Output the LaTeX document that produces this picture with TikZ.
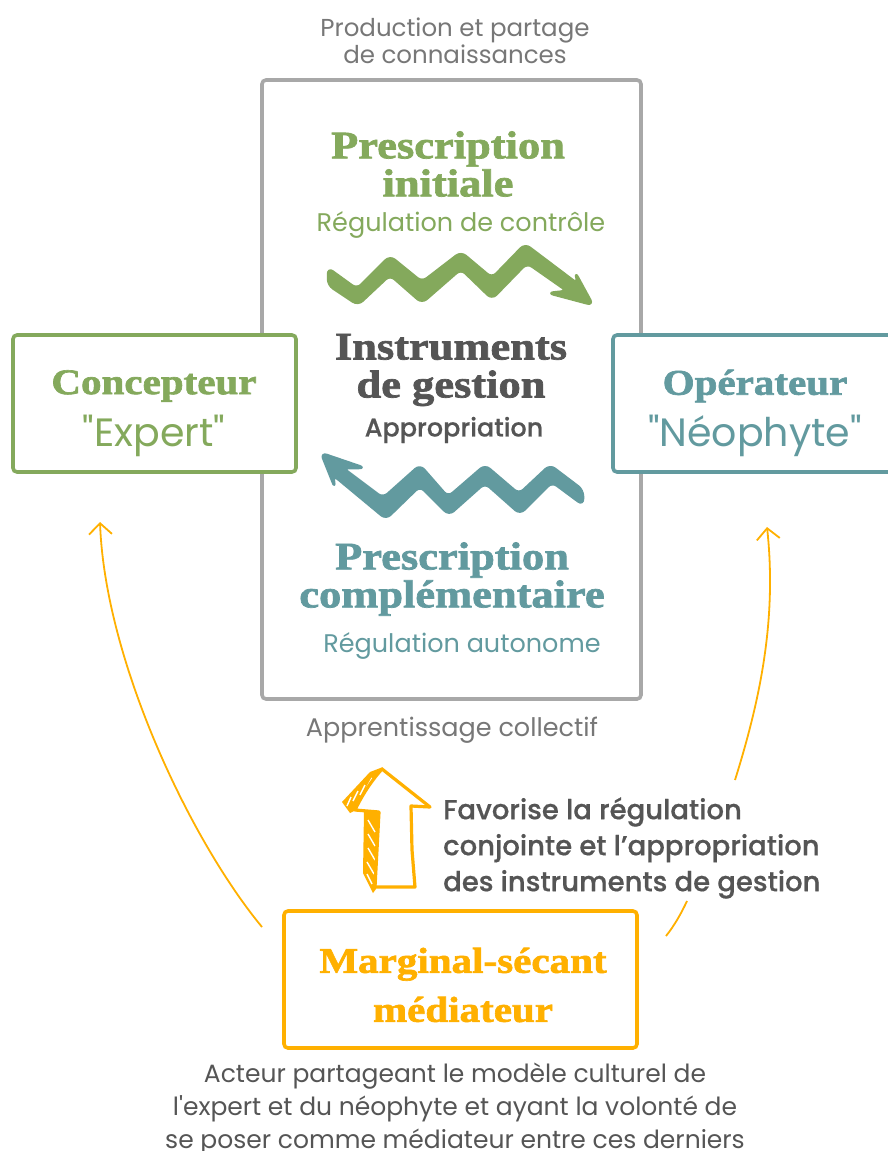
\documentclass[tikz,border=0pt]{standalone}
\usepackage{fontspec}
\setmainfont{Poppins}
\newfontfamily\headfont[BoldFont={Liberation Serif Bold},FakeBold=1.8,FakeStretch=1.14]{Liberation Serif Bold}
\newfontfamily\bodyfont[BoldFont={Poppins Medium},BoldFeatures={FakeBold=0.5}]{Poppins}
\usetikzlibrary{arrows.meta,calc}
\definecolor{cgreen}{HTML}{84A95C}
\definecolor{cteal}{HTML}{629A9F}
\definecolor{cyel}{HTML}{FFB000}
\definecolor{cgrey}{HTML}{A8A8A8}
\definecolor{cdark}{HTML}{555555}
\definecolor{clight}{HTML}{777777}
\tikzset{
 box/.style={draw=#1,line width=3.6pt,rounded corners=4pt,fill=white,outer sep=0pt,inner sep=0pt,anchor=north west},
 head/.style={font=\headfont\fontsize{36}{38}\selectfont,align=center,text=#1,inner sep=0pt},
 headb/.style={font=\headfont\fontsize{39}{38}\selectfont,align=center,text=#1,inner sep=0pt},
 sub/.style={font=\bodyfont\fontsize{25.5}{29}\selectfont,align=center,text=#1,inner sep=0pt},
 big/.style={font=\bodyfont\fontsize{39.5}{44}\selectfont,align=center,text=#1,inner sep=0pt},
 link/.style={draw=cyel,line width=1.8pt},
 linkhead/.style={link,-{Straight Barb[length=11pt,width=23pt,line width=1.8pt]}},
 squig/.style={fill=#1,draw=#1,line width=2.5pt,line join=round,rounded corners=6pt},
 hatch/.style={white,line width=1.4pt}
}
\begin{document}
\begin{tikzpicture}[x=1pt,y=-1pt]
\useasboundingbox (0,0) rectangle (887,1151);
\fill[white] (0,0) rectangle (887,1151);
% main panel
\node[box=cgrey,minimum width=379pt,minimum height=619pt] (panel) at (262,80) {};
\node[box=cgreen,minimum width=283pt,minimum height=137pt] (concepteur) at (13,335) {};
\node[box=cteal,minimum width=290pt,minimum height=137pt] (operateur) at (613,335) {};
\node[box=cyel,minimum width=353pt,minimum height=137pt] (marginal) at (284,911) {};
% texts
\node[sub=clight,font=\bodyfont\fontsize{24.5}{27}\selectfont] (prod) at (455,41) {Production et partage\\ de connaissances};
\node[headb=cgreen] (presc) at (448,164) {Prescription\\initiale};
\node[sub=cgreen] (regc) at (461,225) {Régulation de contrôle};
\node[headb=cdark] (instr) at (451,370) {Instruments\\de gestion};
\node[sub=cdark] (appr) at (454,430) {\bfseries Appropriation};
\node[headb=cteal] (prescb) at (452,579) {Prescription\\complémentaire};
\node[sub=cteal] (rega) at (462,646) {Régulation autonome};
\node[sub=clight] (appc) at (452,730) {Apprentissage collectif};
\node[head=cgreen] (c1) at (154,386) {Concepteur};
\node[big=cgreen] (c2) at (154,436) {"Expert"};
\node[head=cteal] (o1) at (755,386) {Opérateur};
\node[big=cteal] (o2) at (755,436) {"Néophyte"};
\node[head=cyel,font=\headfont\fontsize{36}{49}\selectfont] (m1) at (463,985) {Marginal-sécant\\médiateur};
\node[font=\bodyfont\fontsize{27.5}{36}\selectfont\bfseries,text=cdark,align=left,anchor=west,inner sep=0pt] (fav) at (443,848) {Favorise la régulation\\conjointe et l’appropriation\\des instruments de gestion};
\node[font=\bodyfont\fontsize{25}{33}\selectfont,text=cdark,align=center,inner sep=0pt] (acteur) at (455,1109) {Acteur partageant le modèle culturel de\\l'expert et du néophyte et ayant la volonté de\\se poser comme médiateur entre ces derniers};
% green squiggle
\fill[squig=cgreen] (328,268) -- (357,289) -- (390,256) -- (422,282) -- (461,252) -- (492,278) -- (525,244) -- (578,284) -- (575,272) -- (593,305) -- (548,293) -- (567,291) -- (527,263) -- (492,299) -- (461,269) -- (422,303) -- (390,275) -- (358,305) -- (328,285) -- cycle;
% teal squiggle
\fill[squig=cteal] (321,453) -- (365,468) -- (343,468) -- (383,498) -- (420,465) -- (448,497) -- (485,465) -- (519,494) -- (550,465) -- (583,490) -- (583,505) -- (552,482) -- (520,514) -- (485,483) -- (449,515) -- (420,486) -- (386,519) -- (333,475) -- (335,488) -- cycle;
% sketched arrow: hatched side faces
\fill[cyel] (342,802) -- (370,772) -- (383,767) -- (356,810) -- (350,813) -- cycle;
\fill[cyel] (364,811) -- (380,811) -- (376,889) -- (373,893) -- (363,873) -- cycle;
\draw[hatch] (347,806) -- (351,797);
\draw[hatch] (353,801) -- (358,791);
\draw[hatch] (360,795) -- (365,785);
\draw[hatch] (367,787) -- (372,778);
\draw[hatch] (368,820) -- (375,832);
\draw[hatch] (368,834) -- (375,846);
\draw[hatch] (368,848) -- (375,860);
\draw[hatch] (367,862) -- (374,874);
\draw[hatch] (367,874) -- (372,884);
% sketched arrow: front face
\draw[cyel,line width=3.2pt,line join=round,line cap=round,fill=white] (382,769) -- (430,807) -- (411,806) -- (412,850) -- (415,887) -- (375,887) -- (379,812) -- (355,810) .. controls (362,795) and (372,780) .. (382,769);
% connectors
\coordinate (ml) at (262,927);
\coordinate (clow) at (100,522);
\coordinate (mr) at (666,936);
\coordinate (gap1) at (687,901);
\coordinate (gap2) at (735,780);
\coordinate (olow) at (767,527);
\draw[linkhead] (ml) .. controls (190,840) and (105,660) .. (clow);
\draw[link] (mr) .. controls (674,926) and (681,914) .. (gap1);
\draw[linkhead] (gap2) .. controls (760,700) and (777,620) .. (olow);
\end{tikzpicture}
\end{document}
